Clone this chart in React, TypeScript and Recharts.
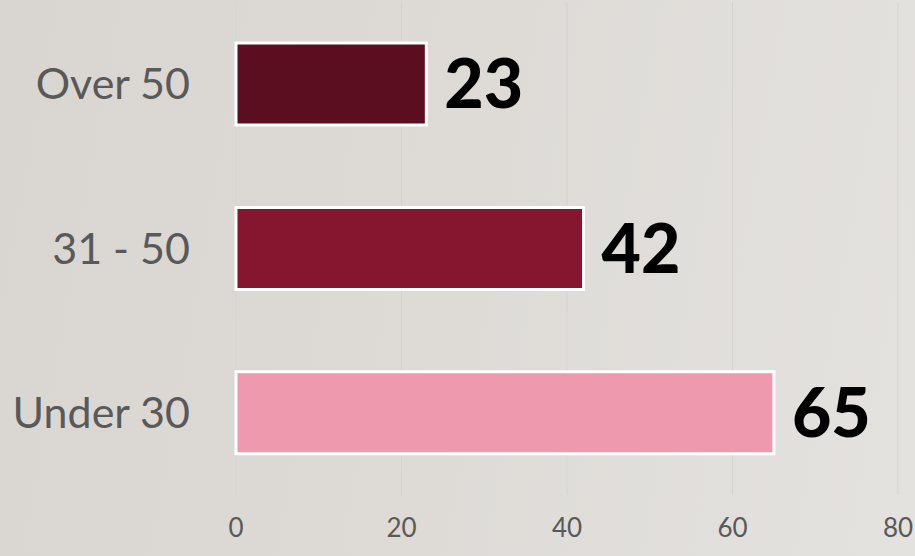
import React from 'react';
import { BarChart, Bar, XAxis, YAxis, CartesianGrid, Cell, LabelList } from 'recharts';

const categories = ['Over 50', '31 - 50', 'Under 30'];
const values = [23, 42, 65];
const barColors = ['#5c0e21', '#86152f', '#ef99ae'];
const xTicks = [0, 20, 40, 60, 80];

const data = categories.map((name, i) => ({ name, value: values[i] }));

export default function App() {
  return (
    <div
      style={{
        position: 'absolute',
        left: 0,
        top: 0,
        width: 915,
        height: 556,
        background: 'linear-gradient(100deg, #d9d6d1 0%, #dedbd7 50%, #e4e2df 100%)',
        fontFamily: 'Lato, "Open Sans", sans-serif',
      }}
    >
      <BarChart
        width={915}
        height={556}
        data={data}
        layout="vertical"
        margin={{ top: 2, right: 17, bottom: 0, left: 0 }}
        barCategoryGap="25%"
      >
        <CartesianGrid horizontal={false} vertical={true} stroke="#d6d3ce" strokeWidth={1} />
        <XAxis
          type="number"
          domain={[0, 80]}
          ticks={xTicks}
          axisLine={false}
          tickLine={false}
          tickSize={0}
          tickMargin={24}
          height={61}
          tick={{ fill: '#595959', fontSize: 26, fontFamily: 'Lato, sans-serif' }}
        />
        <YAxis
          type="category"
          dataKey="name"
          width={236}
          axisLine={false}
          tickLine={false}
          tickSize={0}
          tickMargin={46}
          tick={{ fill: '#595959', fontSize: 43, fontFamily: 'Lato, sans-serif' }}
        />
        <Bar dataKey="value" isAnimationActive={false} stroke="#ffffff" strokeWidth={3}>
          {data.map((d, i) => (
            <Cell key={d.name} fill={barColors[i]} />
          ))}
          <LabelList
            dataKey="value"
            position="right"
            offset={18}
            fill="#000000"
            style={{ fontSize: 68, fontWeight: 900, fontFamily: 'Lato, sans-serif' }}
          />
        </Bar>
      </BarChart>
    </div>
  );
}
